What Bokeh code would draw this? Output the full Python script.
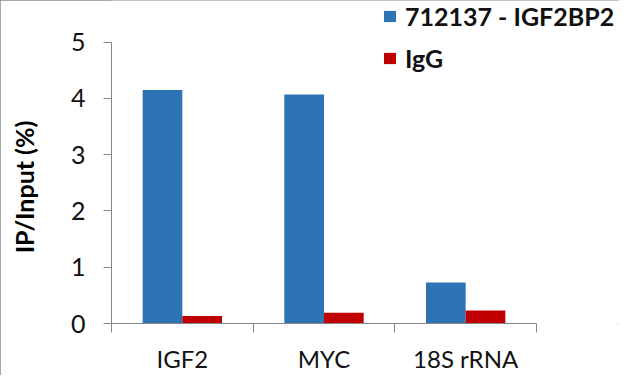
from bokeh.plotting import figure
from bokeh.models import Range1d, FixedTicker, LinearAxis, Legend, LegendItem, ColumnDataSource
from bokeh.transform import dodge
from bokeh.embed import file_html
from bokeh.resources import INLINE

categories = ["IGF2", "MYC", "18S rRNA"]
series_names = ["712137 - IGF2BP2", "IgG"]
igf2bp2 = [4.15, 4.07, 0.73]
igg = [0.135, 0.19, 0.23]
y_ticks = [0, 1, 2, 3, 4, 5]
y_title = "IP/Input (%)"

FONT = "Lato"
AXIS_COLOR = "#868686"
BLUE = "#2E74B5"
RED = "#C00000"

centers = [i + 0.5 for i in range(len(categories))]
boundaries = list(range(len(categories) + 1))
n_cat = len(categories)

src = ColumnDataSource(dict(xc=centers, a=igf2bp2, b=igg, cat=categories))

# The frame covers the whole area above/right of the axes so that the legend
# (which sits above and right of the axes) is not clipped; axis lines are bounded.
W, H = 619, 375
LEFT, BOTTOM = 111, 49
plot_h = H - BOTTOM          # frame height in px
y5_px = 42                   # px from top where the top tick sits
y_top = y_ticks[-1] * plot_h / (plot_h - y5_px)
x_top = n_cat * (W - LEFT) / (536 - LEFT)

p = figure(width=W, height=H, output_backend="svg", toolbar_location=None,
           x_range=Range1d(0, x_top), y_range=Range1d(0, y_top),
           x_axis_location=None, y_axis_location=None,
           min_border_left=LEFT, min_border_right=0, min_border_top=0,
           min_border_bottom=BOTTOM)
p.outline_line_color = None
p.xgrid.visible = False
p.ygrid.visible = False
p.background_fill_color = "white"
p.border_fill_color = "white"
p.styles = {"outline": "2px solid #8c8c8c", "outline-offset": "-2px"}

bw = 0.28
r1 = p.vbar(x=dodge("xc", -bw / 2, range=p.x_range), top="a", width=bw, bottom=0,
            source=src, fill_color=BLUE, line_color=None)
r2 = p.vbar(x=dodge("xc", bw / 2, range=p.x_range), top="b", width=bw, bottom=0,
            source=src, fill_color=RED, line_color=None)

# trailing em/en spaces shift the (frame-centred) label down to the middle of 0..5
yaxis = LinearAxis(ticker=FixedTicker(ticks=y_ticks, minor_ticks=[]),
                   bounds=(y_ticks[0], y_ticks[-1]),
                   axis_line_color=AXIS_COLOR, major_tick_line_color=AXIS_COLOR,
                   major_tick_in=0, major_tick_out=8, minor_tick_line_color=None,
                   major_label_standoff=18,
                   major_label_text_font=FONT, major_label_text_font_size="25px",
                   major_label_text_color="#111111",
                   axis_label=y_title + "\u2003\u2003\u2002", axis_label_text_font=FONT,
                   axis_label_text_font_size="25px", axis_label_text_font_style="bold",
                   axis_label_text_color="#000000", axis_label_standoff=29)
p.add_layout(yaxis, "left")

xaxis = LinearAxis(ticker=FixedTicker(ticks=centers, minor_ticks=boundaries),
                   bounds=(boundaries[0], boundaries[-1]),
                   major_label_overrides={c: n for c, n in zip(centers, categories)},
                   axis_line_color=AXIS_COLOR, major_tick_line_color=None,
                   major_tick_in=0, major_tick_out=9,
                   minor_tick_in=0, minor_tick_out=9, minor_tick_line_color=AXIS_COLOR,
                   major_label_standoff=11,
                   major_label_text_font=FONT, major_label_text_font_size="24px",
                   major_label_text_color="#111111")
p.add_layout(xaxis, "below")

legend = Legend(items=[LegendItem(label=series_names[0], renderers=[r1]),
                       LegendItem(label=series_names[1], renderers=[r2])],
                location=(271, 250), orientation="vertical",
                glyph_width=15, glyph_height=14, label_standoff=8,
                label_text_font=FONT, label_text_font_size="25px",
                label_text_font_style="bold", label_text_color="#111111",
                label_height=30, spacing=12, padding=0, margin=0,
                border_line_color=None, background_fill_alpha=0)
p.add_layout(legend, "center")

open("out.html", "w").write(file_html(p, INLINE))
